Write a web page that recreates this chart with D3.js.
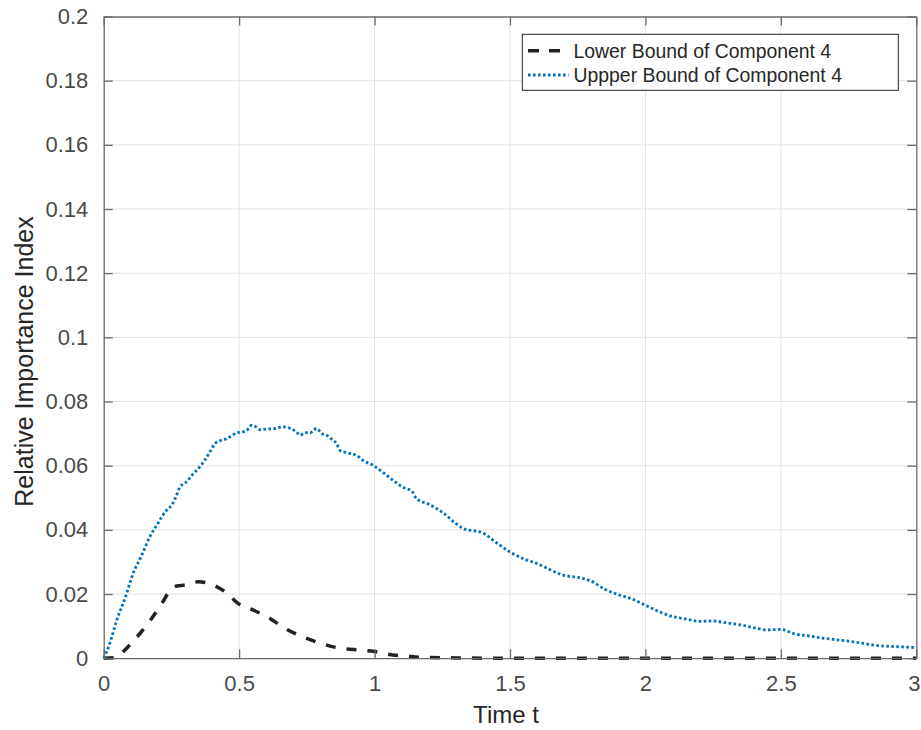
<!DOCTYPE html>
<html>
<head>
<meta charset="utf-8">
<script src="https://cdn.jsdelivr.net/npm/d3@7"></script>
<style>
  html, body { margin: 0; padding: 0; background: #fff; }
  svg { display: block; font-family: "Liberation Sans", Arial, Helvetica, sans-serif; }
</style>
</head>
<body>
<svg id="chart" width="921" height="730"></svg>
<script>
// ---- data ----
const xTicks = [0, 0.5, 1, 1.5, 2, 2.5, 3];
const xTickLabels = ["0", "0.5", "1", "1.5", "2", "2.5", "3"];
const yTicks = [0, 0.02, 0.04, 0.06, 0.08, 0.1, 0.12, 0.14, 0.16, 0.18, 0.2];
const yTickLabels = ["0", "0.02", "0.04", "0.06", "0.08", "0.1", "0.12", "0.14", "0.16", "0.18", "0.2"];
const seriesNames = ["Lower Bound of Component 4", "Uppper Bound of Component 4"];
const xLabel = "Time t";
const yLabel = "Relative Importance Index";

const lowerT = [0, 0.04, 0.079, 0.105, 0.134, 0.177, 0.214, 0.251, 0.27, 0.3, 0.349, 0.399, 0.448, 0.497, 0.552, 0.614, 0.669, 0.737, 0.792, 0.866, 0.95, 1.0, 1.05, 1.1, 1.15, 1.2, 1.3, 1.4, 3.0];
const lowerV = [0, 0.0002, 0.0026, 0.005, 0.0077, 0.0124, 0.017, 0.0217, 0.0225, 0.0228, 0.0238, 0.023, 0.0207, 0.017, 0.015, 0.0124, 0.0093, 0.0066, 0.0049, 0.0032, 0.0025, 0.0021, 0.0012, 0.0007, 0.0004, 0.0002, 0.0001, 0, 0];

const upperT = [0, 0.02, 0.048, 0.08, 0.109, 0.14, 0.171, 0.2, 0.214, 0.232, 0.251, 0.265, 0.282, 0.3, 0.331, 0.355, 0.368, 0.39, 0.411, 0.43, 0.454, 0.475, 0.491, 0.51, 0.528, 0.546, 0.56, 0.577, 0.6, 0.626, 0.663, 0.69, 0.712, 0.725, 0.745, 0.761, 0.786, 0.805, 0.823, 0.845, 0.86, 0.872, 0.9, 0.934, 0.96, 0.995, 1.03, 1.069, 1.1, 1.14, 1.155, 1.2, 1.25, 1.3, 1.326, 1.4, 1.45, 1.5, 1.55, 1.6, 1.65, 1.696, 1.75, 1.8, 1.85, 1.9, 1.95, 2.0, 2.05, 2.1, 2.15, 2.2, 2.25, 2.3, 2.35, 2.4, 2.45, 2.5, 2.55, 2.6, 2.65, 2.7, 2.75, 2.8, 2.85, 2.9, 2.95, 3.0];
const upperV = [0, 0.004, 0.0118, 0.019, 0.0265, 0.032, 0.038, 0.042, 0.044, 0.0461, 0.0477, 0.05, 0.0534, 0.0545, 0.0575, 0.0596, 0.0611, 0.064, 0.0669, 0.0678, 0.0684, 0.0695, 0.0703, 0.0705, 0.071, 0.0726, 0.0722, 0.0712, 0.0714, 0.0715, 0.0721, 0.0716, 0.0705, 0.0695, 0.0703, 0.0702, 0.0716, 0.07, 0.0695, 0.068, 0.0669, 0.0648, 0.064, 0.0632, 0.0615, 0.0601, 0.058, 0.0554, 0.0535, 0.0518, 0.0497, 0.048, 0.0455, 0.042, 0.0405, 0.039, 0.036, 0.0331, 0.031, 0.0295, 0.0275, 0.0259, 0.0252, 0.024, 0.0215, 0.0198, 0.0185, 0.0165, 0.0145, 0.013, 0.0122, 0.0115, 0.0116, 0.011, 0.0104, 0.0095, 0.0088, 0.009, 0.0076, 0.007, 0.0063, 0.0058, 0.0053, 0.0047, 0.004, 0.0037, 0.0035, 0.0033];

// ---- layout ----
const svg = d3.select("#chart");
const L = 103.7, R = 916.3, T = 16.5, B = 658.2;
const x = d3.scaleLinear().domain([0, 3]).range([L, R]);
const y = d3.scaleLinear().domain([0, 0.2]).range([B, T]);

const axisColor = "#6a6a6a";
const tickTextColor = "#4a4a4a";

// grid
const grid = svg.append("g");
grid.selectAll("line.vg").data(xTicks.slice(1, -1)).enter().append("line")
  .attr("x1", d => x(d)).attr("x2", d => x(d)).attr("y1", T).attr("y2", B)
  .attr("stroke", "#e3e3e3").attr("stroke-width", 1);
grid.selectAll("line.hg").data(yTicks.slice(1, -1)).enter().append("line")
  .attr("x1", L).attr("x2", R).attr("y1", d => y(d)).attr("y2", d => y(d))
  .attr("stroke", "#e3e3e3").attr("stroke-width", 1);

// axes (ticks inward)
const tickLen = 9;
const xAxisB = d3.axisBottom(x).tickValues(xTicks).tickFormat((d, i) => xTickLabels[i]).tickSizeInner(-tickLen).tickSizeOuter(0).tickPadding(17.5);
const xAxisT = d3.axisTop(x).tickValues(xTicks).tickFormat("").tickSizeInner(-tickLen).tickSizeOuter(0);
const yAxisL = d3.axisLeft(y).tickValues(yTicks).tickFormat((d, i) => yTickLabels[i]).tickSizeInner(-tickLen).tickSizeOuter(0).tickPadding(15.4);
const yAxisR = d3.axisRight(y).tickValues(yTicks).tickFormat("").tickSizeInner(-tickLen).tickSizeOuter(0);

function styleAxis(g) {
  g.select(".domain").attr("stroke", axisColor).attr("stroke-width", 1.3);
  g.selectAll(".tick line").attr("stroke", axisColor).attr("stroke-width", 1.3);
  g.selectAll(".tick text").attr("fill", tickTextColor).style("font-size", "22px")
    .style("font-family", "'Liberation Sans', Arial, Helvetica, sans-serif");
}

// lines
const lowerData = lowerT.map((t, i) => [t, lowerV[i]]);
const upperData = upperT.map((t, i) => [t, upperV[i]]);
const line = d3.line().x(d => x(d[0])).y(d => y(d[1])).curve(d3.curveMonotoneX);

svg.append("path").datum(lowerData).attr("d", line)
  .attr("fill", "none").attr("stroke", "#222").attr("stroke-width", 3.5)
  .attr("stroke-dasharray", "10,11");

svg.append("path").datum(upperData).attr("d", line)
  .attr("fill", "none").attr("stroke", "#0072BD").attr("stroke-width", 2.8)
  .attr("stroke-dasharray", "2.6,2.4");

const gxb = svg.append("g").attr("transform", `translate(0,${B})`).call(xAxisB).call(styleAxis);
// keep the last tick label inside the picture
gxb.selectAll(".tick text").filter((d, i) => i === xTicks.length - 1).attr("dx", -2.5);
svg.append("g").attr("transform", `translate(0,${T})`).call(xAxisT).call(styleAxis);
svg.append("g").attr("transform", `translate(${L},0)`).call(yAxisL).call(styleAxis);
svg.append("g").attr("transform", `translate(${R},0)`).call(yAxisR).call(styleAxis);

// axis labels
svg.append("text").attr("x", 506).attr("y", 723)
  .attr("text-anchor", "middle").attr("fill", "#262626").style("font-size", "24px")
  .text(xLabel);
svg.append("text").attr("transform", `translate(32.5,361.5) rotate(-90)`)
  .attr("text-anchor", "middle").attr("fill", "#262626").style("font-size", "25px")
  .text(yLabel);

// legend
const lg = svg.append("g");
lg.append("rect").attr("x", 522.3).attr("y", 34.3).attr("width", 376).attr("height", 56)
  .attr("fill", "#fff").attr("stroke", "#262626").attr("stroke-width", 1);
const legendStyles = [
  { stroke: "#222", width: 3.5, dash: "11,10" },
  { stroke: "#0072BD", width: 2.8, dash: "2.6,2.4" }
];
seriesNames.forEach((name, i) => {
  const yy = 50.7 + i * 24.3;
  lg.append("line").attr("x1", 528).attr("x2", 568.5).attr("y1", yy).attr("y2", yy)
    .attr("stroke", legendStyles[i].stroke).attr("stroke-width", legendStyles[i].width)
    .attr("stroke-dasharray", legendStyles[i].dash);
  lg.append("text").attr("x", 573.5).attr("y", yy + 7).attr("fill", "#262626")
    .style("font-size", "19.4px").text(name);
});
</script>
</body>
</html>
